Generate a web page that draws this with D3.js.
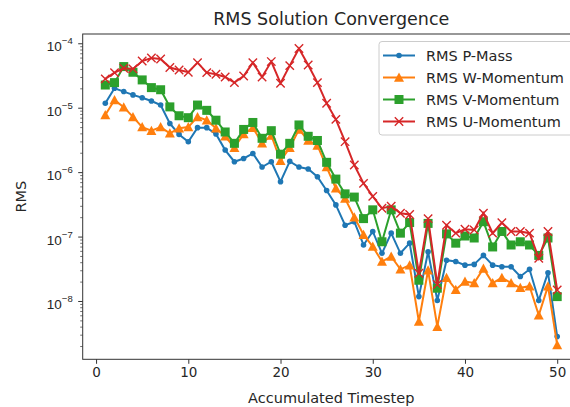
<!DOCTYPE html>
<html><head><meta charset="utf-8">
<script src="https://cdn.jsdelivr.net/npm/d3@7"></script>
<style>
html,body{margin:0;padding:0;background:#fff;}
svg{display:block;font-family:"DejaVu Sans",sans-serif;}
</style></head>
<body>
<svg id="chart" width="570" height="407"></svg>
<script>
const steps = [1,2,3,4,5,6,7,8,9,10,11,12,13,14,15,16,17,18,19,20,21,22,23,24,25,26,27,28,29,30,31,32,33,34,35,36,37,38,39,40,41,42,43,44,45,46,47,48,49,50];
const pMass = [1.17e-5,2.0e-5,1.78e-5,1.58e-5,1.43e-5,1.27e-5,1.10e-5,5.7e-6,3.85e-6,2.97e-6,
  4.9e-6,4.9e-6,3.9e-6,2.2e-6,1.45e-6,1.63e-6,1.95e-6,1.2e-6,1.45e-6,7.1e-7,
  1.47e-6,1.2e-6,1.12e-6,8.5e-7,5.2e-7,3.1e-7,1.5e-7,1.7e-7,7.4e-8,1.2e-7,
  5.5e-8,1.13e-7,5.5e-8,7.9e-8,1.17e-8,5.8e-8,1.02e-8,4.3e-8,4.1e-8,3.6e-8,
  3.7e-8,5.1e-8,3.6e-8,3.4e-8,3.4e-8,2.4e-8,3.1e-8,1.02e-8,2.75e-8,2.8e-9];
const wMom = [7.7e-6,1.32e-5,1.02e-5,7.2e-6,5.0e-6,4.4e-6,5.0e-6,4.0e-6,4.8e-6,5.0e-6,
  7.2e-6,6.4e-6,4.8e-6,3.6e-6,2.4e-6,3.9e-6,4.9e-6,2.8e-6,3.7e-6,1.5e-6,
  2.4e-6,4.6e-6,3.1e-6,2.6e-6,1.2e-6,5.6e-7,3.9e-7,2.0e-7,1.07e-7,7.0e-8,
  4.1e-8,4.9e-8,3.1e-8,3.6e-8,4.8e-9,3.0e-8,4.0e-9,2.3e-8,1.5e-8,2.0e-8,
  1.9e-8,3.2e-8,1.9e-8,2.3e-8,1.9e-8,1.6e-8,1.7e-8,6.0e-9,1.7e-8,2.07e-9];
const vMom = [2.25e-5,2.45e-5,4.35e-5,3.55e-5,2.7e-5,2.05e-5,1.9e-5,1.03e-5,7.5e-6,7.0e-6,
  1.1e-5,9.1e-6,6.4e-6,4.2e-6,2.8e-6,4.6e-6,5.9e-6,3.35e-6,4.4e-6,1.9e-6,
  2.8e-6,5.4e-6,3.6e-6,3.1e-6,1.42e-6,7.8e-7,4.6e-7,4.1e-7,1.9e-7,2.6e-7,
  8.3e-8,2.6e-7,1.13e-7,1.65e-7,2.1e-8,1.6e-7,1.58e-8,1.1e-7,7.9e-8,1.02e-7,
  9.5e-8,1.7e-7,6.9e-8,1.2e-7,7.4e-8,8.3e-8,7.4e-8,5.1e-8,9.5e-8,1.17e-8];
const uMom = [2.8e-5,3.5e-5,4.1e-5,4.0e-5,5.3e-5,5.9e-5,5.7e-5,4.2e-5,3.85e-5,3.55e-5,
  5.0e-5,3.5e-5,3.3e-5,3.0e-5,2.45e-5,3.1e-5,5.0e-5,3.0e-5,5.2e-5,2.4e-5,
  4.5e-5,8.3e-5,4.6e-5,2.45e-5,1.17e-5,6.6e-6,2.97e-6,1.29e-6,6.7e-7,4.2e-7,
  2.75e-7,2.95e-7,2.3e-7,2.2e-7,2.7e-8,1.9e-7,1.8e-8,1.5e-7,1.13e-7,1.3e-7,
  1.27e-7,2.3e-7,1.13e-7,1.64e-7,1.2e-7,1.2e-7,1.13e-7,4.6e-8,1.2e-7,1.48e-8];
const seriesNames = ["RMS P-Mass","RMS W-Momentum","RMS V-Momentum","RMS U-Momentum"];
const xTicks = [0,10,20,30,40,50];
const yTickExps = [-8,-7,-6,-5,-4];
const titleText = "RMS Solution Convergence";
const xLabel = "Accumulated Timestep";
const yLabel = "RMS";

const series = [
  {name: seriesNames[0], values: pMass, color: "#1f77b4", marker: "dot"},
  {name: seriesNames[1], values: wMom, color: "#ff7f0e", marker: "tri"},
  {name: seriesNames[2], values: vMom, color: "#2ca02c", marker: "sq"},
  {name: seriesNames[3], values: uMom, color: "#d62728", marker: "x"}
];

const svg = d3.select("#chart");
const L = 82.7, R = 579.8, T = 34, B = 359.3;
const x = d3.scaleLinear().domain([-1.45, 52.45]).range([L, R]);
const y = d3.scaleLog().domain([Math.pow(10,-8.905), Math.pow(10,-3.856)]).range([B, T]);
const txt = "#262626", axc = "#333";

svg.append("text").attr("x", (L+R)/2).attr("y", 25).attr("text-anchor","middle")
  .attr("font-size","17.5px").attr("fill",txt).text(titleText);

svg.append("defs").append("clipPath").attr("id","clip")
  .append("rect").attr("x",L).attr("y",T).attr("width",R-L).attr("height",B-T);

const xAxis = d3.axisBottom(x).tickValues(xTicks).tickSize(4.5).tickPadding(4).tickFormat(d3.format("d"));
const gx = svg.append("g").attr("transform",`translate(0,${B})`).call(xAxis);
gx.select(".domain").remove();
gx.selectAll(".tick line").attr("stroke",axc).attr("stroke-width",1);
gx.selectAll(".tick text").attr("fill",txt).attr("font-size","13.5px").attr("font-family","DejaVu Sans");

const minors = [];
for (let e = -9; e <= -4; e++) for (let m = 2; m <= 9; m++) {
  const v = m*Math.pow(10,e);
  if (v >= y.domain()[0] && v <= y.domain()[1]) minors.push(v);
}
const gyMinor = svg.append("g").attr("transform",`translate(${L},0)`)
  .call(d3.axisLeft(y).tickValues(minors).tickSize(2.5).tickFormat(""));
gyMinor.select(".domain").remove();
gyMinor.selectAll(".tick line").attr("stroke",axc).attr("stroke-width",0.7);

const majors = yTickExps.map(e => Math.pow(10,e));
const gy = svg.append("g").attr("transform",`translate(${L},0)`)
  .call(d3.axisLeft(y).tickValues(majors).tickSize(4.5).tickFormat(""));
gy.select(".domain").remove();
gy.selectAll(".tick line").attr("stroke",axc).attr("stroke-width",1);
gy.selectAll(".tick").each(function(d){
  const e = Math.round(Math.log10(d));
  const t = d3.select(this).append("text").attr("x",-10).attr("y",7.5)
    .attr("text-anchor","end").attr("fill",txt).attr("font-size","13.5px");
  t.append("tspan").text("10");
  t.append("tspan").attr("dy",-7).attr("font-size","9.5px").text("\u2212"+Math.abs(e));
});

svg.append("text").attr("x",(L+R)/2).attr("y",403).attr("text-anchor","middle")
  .attr("font-size","14.5px").attr("fill",txt).text(xLabel);
svg.append("text").attr("transform",`translate(25.5,${(T+B)/2}) rotate(-90)`).attr("text-anchor","middle")
  .attr("font-size","14.5px").attr("fill",txt).text(yLabel);

const plot = svg.append("g").attr("clip-path","url(#clip)");
const line = d3.line().x((d,i)=>x(steps[i])).y(d=>y(d));
function drawMarker(g, type, color, cx, cy) {
  if (type === "dot") {
    g.append("circle").attr("cx",cx).attr("cy",cy).attr("r",2.8).attr("fill",color);
  } else if (type === "tri") {
    const s = 5;
    g.append("path").attr("d",`M${cx},${cy-s}L${cx+s},${cy+s*0.85}L${cx-s},${cy+s*0.85}Z`).attr("fill",color);
  } else if (type === "sq") {
    const s = 4.5;
    g.append("rect").attr("x",cx-s).attr("y",cy-s).attr("width",2*s).attr("height",2*s).attr("fill",color);
  } else if (type === "x") {
    const s = 4.2;
    g.append("path").attr("d",`M${cx-s},${cy-s}L${cx+s},${cy+s}M${cx-s},${cy+s}L${cx+s},${cy-s}`)
      .attr("stroke",color).attr("stroke-width",1.4).attr("fill","none");
  }
}
series.forEach(s => {
  const g = plot.append("g");
  g.append("path").attr("d", line(s.values)).attr("fill","none").attr("stroke",s.color).attr("stroke-width",2);
  s.values.forEach((v,i) => drawMarker(g, s.marker, s.color, x(steps[i]), y(v)));
});

svg.append("rect").attr("x",L).attr("y",T).attr("width",R-L).attr("height",B-T)
  .attr("fill","none").attr("stroke",axc).attr("stroke-width",1);

const lg = svg.append("g");
lg.append("rect").attr("x",379).attr("y",41.5).attr("width",200).attr("height",93.5).attr("rx",3)
  .attr("fill","#fff").attr("fill-opacity",0.8).attr("stroke","#ccc").attr("stroke-width",1);
series.forEach((s,i) => {
  const yy = 55.5 + i*22;
  lg.append("line").attr("x1",383).attr("x2",415).attr("y1",yy).attr("y2",yy).attr("stroke",s.color).attr("stroke-width",2);
  drawMarker(lg, s.marker, s.color, 399, yy);
  lg.append("text").attr("x",426).attr("y",yy+5).attr("font-size","14.5px").attr("fill",txt).text(s.name);
});
</script>
</body></html>
